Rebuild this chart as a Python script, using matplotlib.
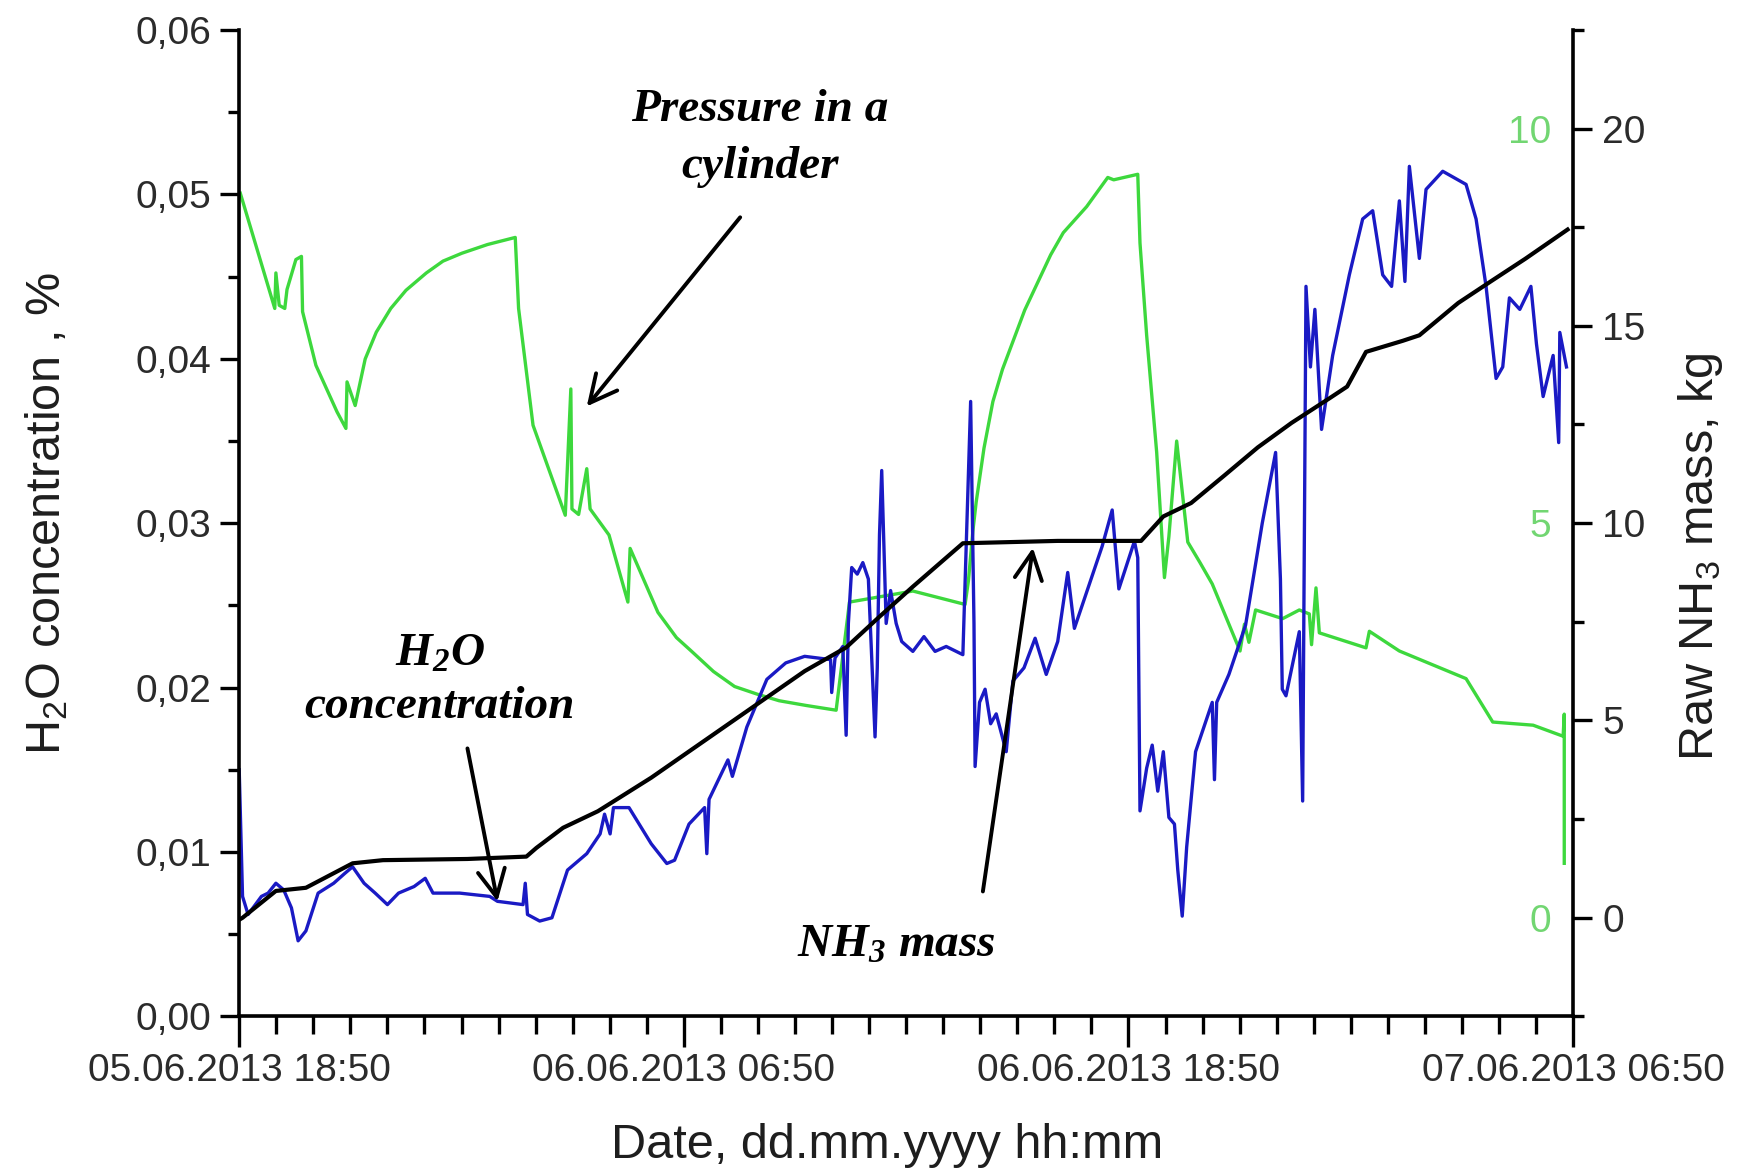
import matplotlib
matplotlib.use("Agg")
import matplotlib.pyplot as plt
from matplotlib.ticker import FixedLocator, MultipleLocator, FuncFormatter

plt.rcParams["font.family"] = ["Liberation Sans", "DejaVu Sans"]
plt.rcParams["mathtext.fontset"] = "custom"
plt.rcParams["mathtext.rm"] = "Liberation Sans"
plt.rcParams["mathtext.it"] = "Liberation Sans:italic"
plt.rcParams["mathtext.bf"] = "Liberation Sans:bold"
plt.rcParams["mathtext.bfit"] = "Liberation Serif:italic:bold"

# hours since 05.06.2013 18:50
h2o_hours = [0.00, 0.09, 0.24, 0.60, 0.78, 0.99, 1.20, 1.41, 1.59, 1.80, 2.13, 2.55, 2.85, 3.06,
             3.37, 3.67, 4.00, 4.30, 4.72, 5.02, 5.23, 5.95, 6.76, 6.97, 7.66, 7.72, 7.78, 8.11,
             8.44, 8.86, 9.38, 9.74, 9.86, 10.01, 10.10, 10.52, 11.12, 11.54, 11.75, 12.14, 12.56,
             12.62, 12.68, 13.19, 13.31, 13.70, 14.24, 14.75, 15.26, 15.96, 15.99, 16.08, 16.29,
             16.38, 16.44, 16.53, 16.68, 16.83, 16.98, 17.16, 17.22, 17.28, 17.34, 17.46, 17.58,
             17.73, 17.88, 18.18, 18.48, 18.78, 19.08, 19.53, 19.74, 19.83, 19.86, 19.98, 20.13,
             20.28, 20.43, 20.70, 20.88, 21.18, 21.48, 21.78, 22.09, 22.36, 22.54, 22.99, 23.29,
             23.56, 23.74, 24.16, 24.25, 24.31, 24.49, 24.64, 24.79, 24.94, 25.09, 25.24, 25.33,
             25.45, 25.57, 25.81, 26.26, 26.32, 26.38, 26.71, 27.16, 27.61, 27.97, 28.10, 28.15,
             28.25, 28.61, 28.70, 28.79, 28.91, 29.03, 29.21, 29.51, 29.96, 30.32, 30.59, 30.86,
             31.10, 31.31, 31.46, 31.58, 31.85, 32.03, 32.48, 33.11, 33.38, 33.65, 33.92, 34.10,
             34.28, 34.56, 34.86, 35.01, 35.19, 35.46, 35.61, 35.64, 35.82]
h2o_conc = [0.0150, 0.0073, 0.0062, 0.0073, 0.0075, 0.0081, 0.0077, 0.0066, 0.0046, 0.0052, 0.0075,
            0.0081, 0.0087, 0.0091, 0.0081, 0.0075, 0.0068, 0.0075, 0.0079, 0.0084, 0.0075, 0.0075,
            0.0073, 0.0070, 0.0068, 0.0081, 0.0062, 0.0058, 0.0060, 0.0089, 0.0099, 0.0111, 0.0123,
            0.0111, 0.0127, 0.0127, 0.0105, 0.0093, 0.0095, 0.0117, 0.0127, 0.0099, 0.0132, 0.0156,
            0.0146, 0.0176, 0.0205, 0.0215, 0.0219, 0.0217, 0.0197, 0.0218, 0.0225, 0.0171, 0.0239,
            0.0273, 0.0269, 0.0276, 0.0266, 0.0170, 0.0212, 0.0293, 0.0332, 0.0239, 0.0259, 0.0239,
            0.0228, 0.0222, 0.0231, 0.0222, 0.0225, 0.0220, 0.0374, 0.0239, 0.0152, 0.0191, 0.0199,
            0.0178, 0.0184, 0.0161, 0.0204, 0.0212, 0.0230, 0.0208, 0.0228, 0.0270, 0.0236, 0.0266,
            0.0286, 0.0308, 0.0260, 0.0289, 0.0279, 0.0125, 0.0151, 0.0165, 0.0137, 0.0161, 0.0121,
            0.0117, 0.0089, 0.0061, 0.0103, 0.0161, 0.0191, 0.0144, 0.0191, 0.0208, 0.0238, 0.0300,
            0.0343, 0.0266, 0.0199, 0.0195, 0.0234, 0.0131, 0.0444, 0.0395, 0.0430, 0.0357, 0.0402,
            0.0451, 0.0485, 0.0490, 0.0451, 0.0444, 0.0496, 0.0447, 0.0517, 0.0461, 0.0503, 0.0514,
            0.0506, 0.0485, 0.0444, 0.0388, 0.0395, 0.0437, 0.0430, 0.0444, 0.0409, 0.0377, 0.0402,
            0.0349, 0.0416, 0.0395]

p_hours = [0.03, 0.96, 0.99, 1.08, 1.23, 1.29, 1.53, 1.68, 1.71, 2.07, 2.64, 2.88, 2.91, 3.13, 3.40,
           3.70, 4.09, 4.50, 5.05, 5.50, 6.01, 6.70, 7.45, 7.54, 7.93, 8.80, 8.95, 8.98, 9.16,
           9.38, 9.47, 9.98, 10.49, 10.55, 11.30, 11.80, 12.20, 12.80, 13.37, 14.00, 14.57, 15.30,
           16.11, 16.47, 18.18, 19.59, 19.68, 19.80, 19.89, 20.10, 20.34, 20.60, 20.88, 21.20,
           21.60, 21.90, 22.24, 22.87, 23.44, 23.60, 24.25, 24.31, 24.49, 24.76, 24.97, 25.09,
           25.30, 25.60, 25.93, 26.26, 27.01, 27.13, 27.25, 27.43, 28.16, 28.61, 28.88, 28.94,
           29.06, 29.15, 30.41, 30.50, 31.31, 33.11, 33.83, 34.92, 35.73, 35.76, 35.76]
pressure = [9.18, 7.72, 8.17, 7.76, 7.72, 7.96, 8.34, 8.38, 7.68, 7.00, 6.41, 6.20, 6.79, 6.49, 7.08,
            7.42, 7.72, 7.95, 8.17, 8.32, 8.42, 8.53, 8.62, 7.72, 6.24, 5.10, 6.70, 5.18, 5.11,
            5.69, 5.18, 4.85, 4.00, 4.68, 3.87, 3.55, 3.38, 3.12, 2.93, 2.83, 2.75, 2.69,
            2.63, 4.00, 4.14, 3.97, 4.27, 4.90, 5.27, 5.95, 6.54, 6.95, 7.30, 7.70,
            8.10, 8.40, 8.68, 9.01, 9.38, 9.35, 9.42, 8.55, 7.38, 5.90, 4.31, 4.83,
            6.04, 4.76, 4.50, 4.23, 3.38, 3.72, 3.49, 3.90, 3.79, 3.90, 3.85, 3.46,
            4.18, 3.61, 3.42, 3.63, 3.38, 3.03, 2.48, 2.44, 2.30, 2.58, 0.69]

mass_hours = [0.00, 0.09, 0.99, 1.80, 3.06, 3.88, 6.16, 7.75, 8.02, 8.74, 9.68, 11.12, 13.19, 15.26,
              16.38, 17.28, 18.18, 19.53, 22.09, 24.34, 24.94, 25.69, 26.59, 27.49, 28.40, 29.45,
              29.90, 30.41, 31.40, 31.85, 32.90, 33.80, 34.71, 35.85]
nh3_mass = [-0.05, 0.00, 0.68, 0.76, 1.38, 1.46, 1.49, 1.55, 1.77, 2.28, 2.70, 3.55, 4.90, 6.25,
            6.85, 7.63, 8.39, 9.49, 9.55, 9.55, 10.17, 10.51, 11.21, 11.92, 12.54, 13.18, 13.46,
            14.34, 14.62, 14.76, 15.58, 16.14, 16.70, 17.44]

date_ticks = [0, 12, 24, 36]
date_labels = ["05.06.2013 18:50", "06.06.2013 06:50", "06.06.2013 18:50", "07.06.2013 06:50"]

tick_color = "#2b2b2b"
green = "#3dd83d"
blue = "#1a1ac4"

fig = plt.figure(figsize=(17.46, 11.71), dpi=100)
fig.patch.set_facecolor("white")
ax = fig.add_axes([0.137, 0.132, 0.764, 0.8425])
ax2 = ax.twinx()
ax3 = ax.twinx()

# draw order: green at the bottom, blue, then black on top
ax3.set_zorder(1)
ax.set_zorder(2)
ax2.set_zorder(3)
for a in (ax, ax2, ax3):
    a.patch.set_visible(False)

ax3.plot(p_hours, pressure, color=green, lw=2.4)
ax.plot(h2o_hours, h2o_conc, color=blue, lw=2.4)
ax2.plot(mass_hours, nh3_mass, color="black", lw=3.0)

ax.set_xlim(0, 36)
ax.set_ylim(0, 0.06)
ax2.set_ylim(-2.5, 22.5)
ax3.set_ylim(-1.25, 11.25)

# spines
for a in (ax, ax2, ax3):
    a.spines["top"].set_visible(False)
ax.spines["right"].set_visible(False)
ax3.spines["right"].set_visible(False)
ax3.spines["left"].set_visible(False)
ax2.spines["left"].set_visible(False)
for s in (ax.spines["left"], ax.spines["bottom"], ax2.spines["right"]):
    s.set_linewidth(2.6)
    s.set_color("black")

# x axis
ax.xaxis.set_major_locator(FixedLocator(date_ticks))
ax.set_xticklabels(date_labels)
ax.xaxis.set_minor_locator(MultipleLocator(1))
ax.tick_params(axis="x", which="major", direction="out", length=22, width=2.4,
               labelsize=28, colors=tick_color, pad=4)
ax.tick_params(axis="x", which="minor", direction="out", length=13, width=2.4)

# left axis
ax.yaxis.set_major_locator(MultipleLocator(0.01))
ax.yaxis.set_minor_locator(MultipleLocator(0.005))
ax.yaxis.set_major_formatter(FuncFormatter(lambda v, _: f"{v:.2f}".replace(".", ",")))
ax.tick_params(axis="y", which="major", direction="out", length=14, width=2.4,
               labelsize=28, colors=tick_color, pad=6)
ax.tick_params(axis="y", which="minor", direction="out", length=8, width=2.4)
ax.tick_params(axis="both", which="both", color="black")

# right axis: NH3 mass
ax2.yaxis.set_major_locator(FixedLocator([0, 5, 10, 15, 20]))
ax2.yaxis.set_minor_locator(MultipleLocator(2.5))
ax2.tick_params(axis="y", which="major", direction="out", length=14, width=2.4,
                labelsize=28, labelcolor=tick_color, color="black", pad=7)
ax2.tick_params(axis="y", which="minor", direction="out", length=8, width=2.4, color="black")

# pressure labels sit inside the plot, next to the right spine
ax3.spines["left"].set_position(("axes", 1.0))
ax3.yaxis.set_ticks_position("left")
ax3.yaxis.set_major_locator(FixedLocator([0, 5, 10]))
ax3.tick_params(axis="y", which="both", length=0, labelsize=28, labelcolor="#72d672",
                pad=16, labelleft=True, labelright=False)

# axis labels
ax.set_xlabel("Date, dd.mm.yyyy hh:mm", fontsize=35, color="#1e1e1e")
ax.xaxis.set_label_coords(0.486, -0.108)
ax.set_ylabel("H$_2$O concentration , %", fontsize=35, color="#1e1e1e")
ax.yaxis.set_label_coords(-0.127, 0.51)
ax2.set_ylabel("Raw NH$_3$ mass, kg", fontsize=35, color="#1e1e1e")
ax2.yaxis.set_label_coords(1.077, 0.466)

# annotations
note = dict(family="Liberation Serif", weight="bold", style="italic", fontsize=34,
            color="black", ha="center", va="center")
arrow = dict(arrowstyle="->,head_length=0.7,head_width=0.35", lw=2.8, color="black",
             mutation_scale=28, shrinkA=0, shrinkB=0)

ax.text(14.06, 0.0534, "Pressure in a\ncylinder", linespacing=1.45, **note)
ax.annotate("", xy=(9.38, 0.0371), xytext=(13.52, 0.0486), arrowprops=arrow)

ax.text(5.41, 0.0204, "$\\mathbfit{H_2O}$\nconcentration", linespacing=1.3, **note)
ax.annotate("", xy=(6.97, 0.0070), xytext=(6.16, 0.0163), arrowprops=arrow)

ax.text(17.73, 0.0043, "$\\mathbfit{NH_3}$ mass", **note)
ax.annotate("", xy=(21.42, 0.0285), xytext=(20.07, 0.0076), arrowprops=arrow)

fig.savefig("out.png", dpi=100, facecolor="white")
